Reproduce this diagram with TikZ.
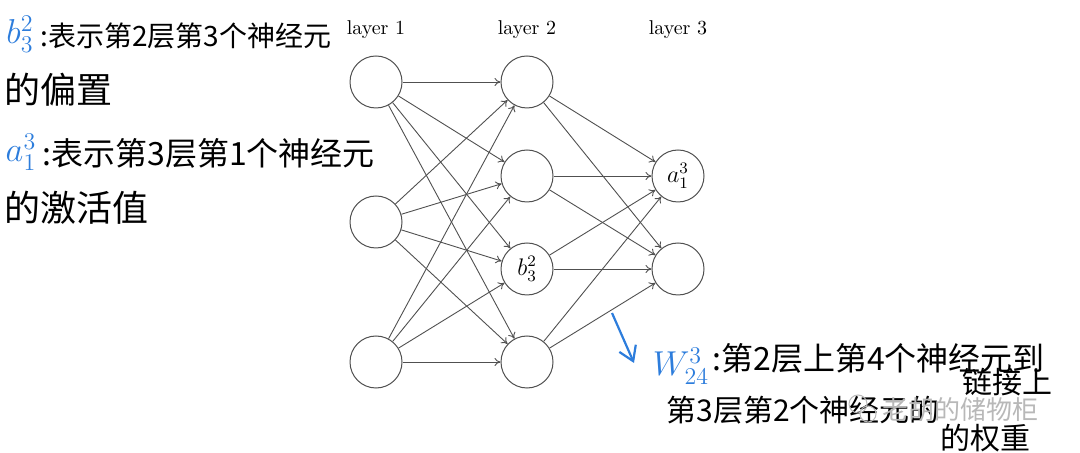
\documentclass[tikz,border=0pt]{standalone}
\usepackage{fontspec}
\newfontfamily\cjk{Noto Sans CJK SC}
\usetikzlibrary{arrows.meta}
\definecolor{penblue}{RGB}{45,125,220}
\definecolor{netgray}{RGB}{80,80,80}
\begin{document}
\begin{tikzpicture}[x=0.5pt,y=-0.5pt,
  neuron/.style={circle,draw=netgray,line width=0.5pt,minimum size=26pt,inner sep=0pt,font=\large},
  conn/.style={-{To[length=3pt,width=4pt]},draw=netgray,line width=0.45pt},
  layerlbl/.style={font=\normalsize},
  hand/.style={font=\cjk\fontsize{14}{16}\selectfont,anchor=west,inner sep=0pt},
  handbig/.style={font=\cjk\fontsize{18}{20}\selectfont,anchor=west,inner sep=0pt},
  bluemath/.style={text=penblue,inner sep=0pt},
  penarrow/.style={draw=penblue,line width=1.1pt,-{Straight Barb[length=7pt,width=9pt]}},
  watermark/.style={font=\cjk\fontsize{13}{15}\selectfont,text=black!28,inner sep=0pt}
]
\useasboundingbox (0,0) rectangle (1080,453);

% layer labels
\node[layerlbl] (t1) at (376,30) {layer 1};
\node[layerlbl] (t2) at (527,30) {layer 2};
\node[layerlbl] (t3) at (678,30) {layer 3};

% neurons
\node[neuron] (a1) at (376,82) {};
\node[neuron] (a2) at (376,222) {};
\node[neuron] (a3) at (376,362) {};
\node[neuron] (b1) at (527,82) {};
\node[neuron] (b2) at (527,176) {};
\node[neuron] (b3) at (527,269) {$b^2_3$};
\node[neuron] (b4) at (527,362) {};
\node[neuron] (c1) at (678,176) {$a^3_1$};
\node[neuron] (c2) at (678,269) {};

% connections
\foreach \i in {a1,a2,a3}
  \foreach \j in {b1,b2,b3,b4}
    \draw[conn] (\i) -- (\j);
\foreach \i in {b1,b2,b3,b4}
  \foreach \j in {c1,c2}
    \draw[conn] (\i) -- (\j);

% annotation 1
\node[bluemath,font=\fontsize{17}{19}\selectfont] (m1) at (20,34) {$b^{2}_{3}$};
\node[hand] (h1) at (40,36) {:表示第2层第3个神经元};
\node[handbig] (h1b) at (4,90) {的偏置};

% annotation 2
\node[bluemath,font=\fontsize{17}{19}\selectfont] (m2) at (21,152) {$a^{3}_{1}$};
\node[hand,font=\cjk\fontsize{16}{18}\selectfont] (h2) at (42,153) {:表示第3层第1个神经元};
\node[handbig] (h2b) at (4,208) {的激活值};

% annotation 3
\coordinate (p1) at (612,313);
\coordinate (p2) at (634,363);
\draw[penarrow] (p1) -- (p2);
\node[bluemath,font=\fontsize{17}{19}\selectfont] (m3) at (681,366) {$W^{3}_{24}$};
\node[hand,font=\cjk\fontsize{16}{18}\selectfont] (h3) at (712,358) {:第2层上第4个神经元到};
\node[hand,font=\cjk\fontsize{15}{17}\selectfont] (h3b) at (666,410) {第3层第2个神经元的};
\node[hand,font=\cjk\fontsize{15}{17}\selectfont] (h3c) at (962,382) {链接上};
\node[hand,font=\cjk\fontsize{15}{17}\selectfont] (h3d) at (940,438) {的权重};

% watermark
\draw[black!28,line width=0.5pt] (858,404) circle[radius=9];
\draw[black!28,line width=0.5pt] (868,414) circle[radius=8];
\node[watermark,anchor=west] (wm) at (882,410) {老胡的储物柜};
\end{tikzpicture}
\end{document}
